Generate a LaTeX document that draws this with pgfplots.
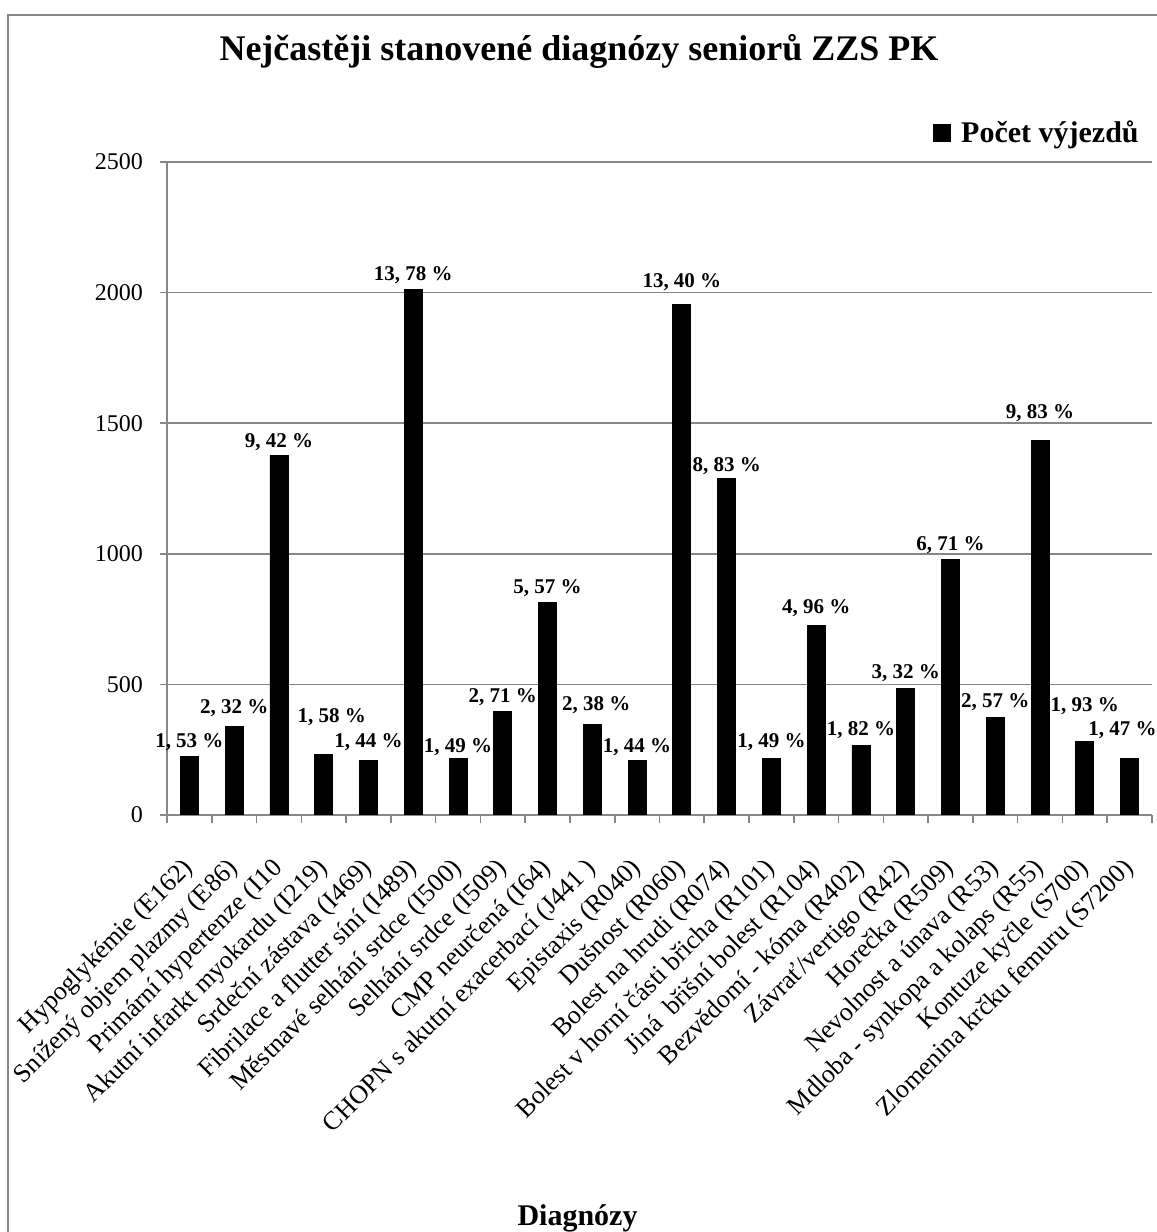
\documentclass[border=0pt]{standalone}
\usepackage{fontspec}
\setmainfont{Liberation Serif}
\usepackage{pgfplots}
\usepackage{pgfplotstable}
\pgfplotsset{compat=1.18}
\definecolor{axgray}{RGB}{134,134,134}

\pgfplotstableread{
x y
0 223
1 339
2 1375
3 231
4 210
5 2012
6 218
7 396
8 813
9 347
10 210
11 1956
12 1289
13 218
14 724
15 266
16 485
17 980
18 375
19 1435
20 282
21 215
}\bars

\pgfplotstableread[col sep=semicolon]{
x;y;label
0;279;1, 53 \%
1;410;2, 32 \%
2;1428;9, 42 \%
3.18;375;1, 58 \%
4;279;1, 44 \%
5;2067;13, 78 \%
6;260;1, 49 \%
7;452;2, 71 \%
8;869;5, 57 \%
9.09;421;2, 38 \%
10;260;1, 44 \%
11;2041;13, 40 \%
12;1336;8, 83 \%
13;279;1, 49 \%
14;792;4, 96 \%
15;325;1, 82 \%
16;544;3, 32 \%
17;1034;6, 71 \%
18;433;2, 57 \%
19;1539;9, 83 \%
20;417;1, 93 \%
20.84;325;1, 47 \%
}\labels

\begin{document}
\begin{tikzpicture}
\useasboundingbox (0,0) rectangle (578.5pt,616pt);
\draw[axgray, line width=1pt] (578.5pt,608.5pt) -- (4pt,608.5pt) -- (4pt,0pt);
\node[anchor=base, font=\bfseries\fontsize{18}{22}\selectfont] at (289.5pt,585.5pt) {Nejčastěji stanovené diagnózy seniorů ZZS PK};
\node[anchor=base, font=\bfseries\fontsize{15}{18}\selectfont] at (288.75pt,3pt) {Diagnózy};
\begin{axis}[
  at={(83.5pt,208.5pt)}, anchor=south west,
  scale only axis, width=492.5pt, height=326.5pt,
  xmin=-0.5, xmax=21.5, ymin=0, ymax=2500,
  axis x line*=bottom, axis y line*=left,
  axis line style={axgray, line width=0.8pt, -},
  ytick={0,500,...,2500},
  ymajorgrids, grid style={axgray, line width=0.8pt},
  xtick={0,...,21},
  xticklabels={Hypoglykémie (E162), Snížený objem plazmy (E86), Primární hypertenze (I10, Akutní infarkt myokardu (I219), Srdeční zástava (I469), Fibrilace a flutter síní (I489), Městnavé selhání srdce (I500), Selhání srdce (I509), CMP neurčená (I64), CHOPN s akutní exacerbací (J441 ), Epistaxis (R040), Dušnost (R060), Bolest na hrudi (R074), Bolest v horní části břicha (R101), Jiná\ \ břišní bolest (R104), Bezvědomí - kóma (R402), Závrať/vertigo (R42), Horečka (R509), Nevolnost a únava (R53), Mdloba - synkopa a kolaps (R55), Kontuze kyčle (S700), Zlomenina krčku femuru (S7200)},
  major x tick style={draw=none},
  minor xtick={-0.5,0.5,...,21.5},
  tick align=outside,
  major tick length=3.5pt, minor tick length=4pt,
  tick style={axgray, line width=0.8pt},
  /pgf/number format/assume math mode=true,
  /pgf/number format/1000 sep={},
  yticklabel style={font=\fontsize{12}{14}\selectfont, xshift=-5pt},
  xticklabel style={font=\fontsize{13}{15}\selectfont, xshift=2.5pt, yshift=-19pt, rotate=45, anchor=east},
  legend style={draw=none, fill=none, at={(0.997,1.044)}, anchor=east, font=\bfseries\fontsize{15}{18}\selectfont},
  legend image code/.code={\fill[black] (0pt,-4.25pt) rectangle (8.5pt,4.25pt); \path (11.5pt,0pt);},
]
\addplot[ybar, bar width=9pt, fill=black, draw=black] table[x=x,y=y]{\bars};
\addlegendentry{Počet výjezdů}
\addplot[draw=none, mark=none, forget plot, nodes near coords, point meta=explicit symbolic,
  every node near coord/.append style={anchor=center, font=\bfseries\fontsize{10.5}{12}\selectfont}]
  table[x=x,y=y,meta=label]{\labels};
\end{axis}
\end{tikzpicture}
\end{document}
